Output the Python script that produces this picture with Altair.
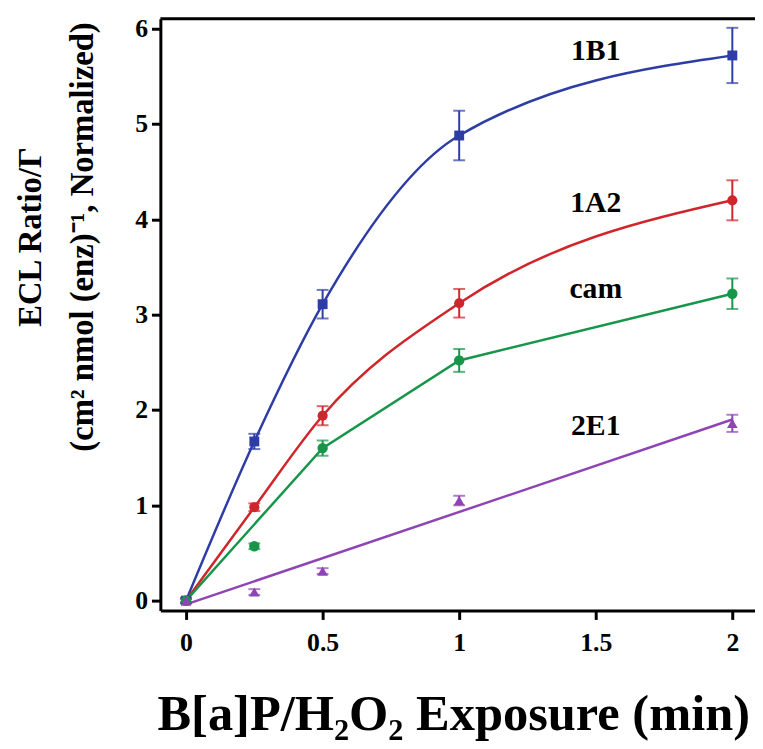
import altair as alt
import pandas as pd

# ---- data ----
times = [0, 0.25, 0.5, 1, 2]
series_names = ["1B1", "1A2", "cam", "2E1"]
b1_y = [0.0, 1.67, 3.11, 4.88, 5.72]
b1_err = [0.03, 0.08, 0.15, 0.26, 0.29]
a2_y = [0.0, 0.98, 1.94, 3.12, 4.20]
a2_err = [0.02, 0.04, 0.10, 0.15, 0.21]
cam_y = [0.0, 0.57, 1.60, 2.52, 3.22]
cam_err = [0.02, 0.03, 0.08, 0.12, 0.16]
e1_y = [0.0, 0.09, 0.31, 1.05, 1.86]
e1_err = [0.02, 0.03, 0.03, 0.05, 0.09]
e1_fit_x = [0, 2]
e1_fit_y = [-0.04, 1.90]
label_x = [1.5, 1.5, 1.5, 1.5]
label_y = [5.67, 4.08, 3.17, 1.74]
colors = ["#2E3DA6", "#D0252B", "#17964A", "#8E44B5"]
shapes = ["square", "circle", "circle", "triangle-up"]
sizes = [100, 115, 55, 50]
x_ticks = [0, 0.5, 1, 1.5, 2]
y_ticks = [0, 1, 2, 3, 4, 5, 6]

rows = []
for name, ys, es in zip(series_names, [b1_y, a2_y, cam_y, e1_y], [b1_err, a2_err, cam_err, e1_err]):
    for t, v, e in zip(times, ys, es):
        rows.append({"series": name, "t": t, "v": v, "lo": v - e, "hi": v + e})
df = pd.DataFrame(rows)
fit_df = pd.DataFrame({"t": e1_fit_x, "v": e1_fit_y, "series": ["2E1", "2E1"]})
lab_df = pd.DataFrame({"t": label_x, "v": label_y, "txt": series_names})

W, H = 601, 598
FONT = "Liberation Serif"

common_axis = dict(
    domainColor="black", domainWidth=3, tickColor="black", tickWidth=3, tickSize=9,
    labelFont=FONT, labelFontWeight="bold", labelFontSize=26, labelColor="black",
    titleFont=FONT, titleFontWeight="bold", titleColor="black", grid=False,
)

xscale = alt.Scale(domain=[-0.094, 2.083], nice=False, zero=False)
yscale = alt.Scale(domain=[-0.104, 6.104], nice=False, zero=False)
xaxis = alt.Axis(values=x_ticks, format="~g", labelFlush=False,
                 title="B[a]P/H₂O₂ Exposure (min)", titleFontSize=51,
                 titleX=296, titleY=120, titleBaseline="alphabetic", labelPadding=10,
                 **common_axis)
yaxis = alt.Axis(values=y_ticks, format="d", labelPadding=4,
                 title=["ECL Ratio/Γ", "(cm² nmol (enz)⁻¹, Normalized)"],
                 titleFontSize=33, titleLineHeight=52, titleAngle=270,
                 titleX=-147, titleY=220, titleBaseline="top", titleAlign="center",
                 **common_axis)


def X(f="t"):
    return alt.X(f"{f}:Q", scale=xscale, axis=xaxis)


def Y(f="v"):
    return alt.Y(f"{f}:Q", scale=yscale, axis=yaxis)


color = alt.Color("series:N", scale=alt.Scale(domain=series_names, range=colors), legend=None)
shape = alt.Shape("series:N", scale=alt.Scale(domain=series_names, range=shapes), legend=None)
size = alt.Size("series:N", scale=alt.Scale(domain=series_names, range=sizes), legend=None)

base = alt.Chart(df)

smooth = base.transform_filter(
    alt.FieldOneOfPredicate(field="series", oneOf=["1B1", "1A2"])
).mark_line(interpolate="monotone", strokeWidth=2.5).encode(x=X(), y=Y(), color=color, detail="series:N")

cam_line = base.transform_filter(
    "datum.series == 'cam' && datum.t != 0.25"
).mark_line(strokeWidth=2.5).encode(x=X(), y=Y(), color=color)

fit = alt.Chart(fit_df).mark_line(strokeWidth=2.5).encode(x=X(), y=Y(), color=color)

err = base.mark_rule(strokeWidth=2).encode(x=X(), y=Y("lo"), y2="hi:Q", color=color)
cap_lo = base.mark_tick(orient="horizontal", size=12, thickness=2).encode(x=X(), y=Y("lo"), color=color)
cap_hi = base.mark_tick(orient="horizontal", size=12, thickness=2).encode(x=X(), y=Y("hi"), color=color)

pts = base.mark_point(filled=True, opacity=1).encode(x=X(), y=Y(), color=color, shape=shape, size=size)

labels = alt.Chart(lab_df).mark_text(font=FONT, fontSize=30, fontWeight="bold", color="black",
                                     align="center", baseline="alphabetic").encode(
    x=X(), y=Y(), text="txt:N")

top = alt.Chart(pd.DataFrame({"a": [1]})).mark_rule(color="black", strokeWidth=3).encode(
    x=alt.value(0), x2=alt.value(W), y=alt.value(0))

chart = alt.layer(smooth, cam_line, fit, err, cap_lo, cap_hi, pts, labels, top).properties(
    width=W, height=H,
    background="white",
    autosize=alt.AutoSizeParams(type="none"),
    padding={"left": 154, "top": 7, "right": 0, "bottom": 136},
).configure_view(stroke=None).configure_axis(**common_axis)

chart.save("out.html", embed_options={"renderer": "svg", "actions": False})
